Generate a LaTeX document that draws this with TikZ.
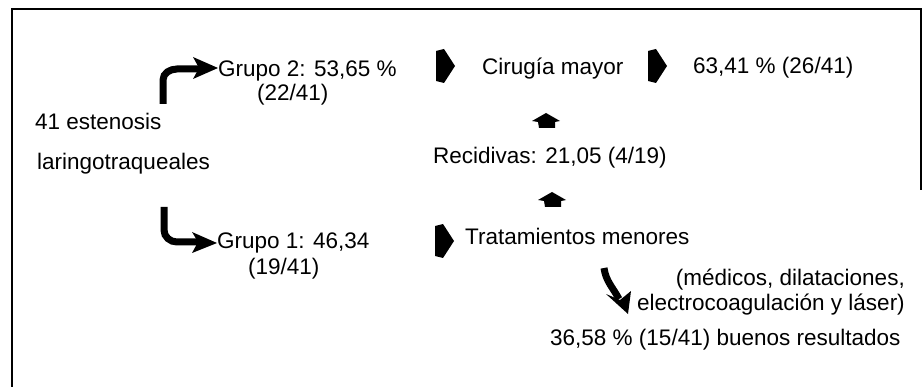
\documentclass[tikz,border=0pt]{standalone}
\usepackage{fontspec}
\setmainfont{Liberation Sans}
\tikzset{
  rblock/.pic={\fill (-9,-15)--(-1,-17)--(10,0)--(-1,17)--(-9,15)--cycle;},
  ublock/.pic={\fill (0,-8)--(14,0)--(9,1)--(9,7)--(-7,7)--(-8,1)--(-14,0)--cycle;},
}
\begin{document}
\begin{tikzpicture}[x=1pt,y=-1pt,
  lbl/.style={inner sep=0pt,anchor=base west,font=\fontsize{22.5}{27}\selectfont},
  lble/.style={lbl,anchor=base east},
  shaft/.style={line width=7pt},
  headfill/.style={fill=black},
  frame/.style={line width=1.5pt}]
\useasboundingbox (0,0) rectangle (923,387);
\draw[frame] (12,388) -- (12,9) -- (921,9) -- (921,190);

% texts
\node[lbl] (g2)  at (218,77)  {Grupo 2: 53,65 \%};
\node[lbl] (g2b) at (257,101) {(22/41)};
\node[lbl] (est) at (35,130)  {41 estenosis};
\node[lbl] (lar) at (37,170)  {laringotraqueales};
\node[lbl] (g1)  at (217,249) {Grupo 1: 46,34};
\node[lbl] (g1b) at (248,275) {(19/41)};
\node[lbl] (cir) at (482,75)  {Cirugía mayor};
\node[lbl] (res) at (693,74)  {63,41 \% (26/41)};
\node[lbl] (rec) at (433,164) {Recidivas: 21,05 (4/19)};
\node[lbl] (tra) at (465,245) {Tratamientos menores};
\node[lble] (med) at (905,285) {(médicos, dilataciones,};
\node[lble] (ele) at (905,310) {electrocoagulación y láser)};
\node[lbl] (bue) at (550,345) {36,58 \% (15/41) buenos resultados};

% bent arrow to Grupo 2
\coordinate (up0) at (163,104);
\coordinate (up1) at (199,69);
\draw[shaft] (up0) -- (163,80) to[out=90,in=180] (177,69) -- (up1);
\fill[headfill] (193,57) -- (g2.west |- 0,68) -- (193,79) -- (199,68) -- cycle;

% bent arrow to Grupo 1
\coordinate (dn0) at (164,207);
\coordinate (dn1) at (198,242);
\draw[shaft] (dn0) -- (164,230) to[out=-90,in=180] (177,242) -- (dn1);
\fill[headfill] (192,232) -- (g1.west |- 0,243) -- (192,253) -- (198,242) -- cycle;

% block arrows
\pic at (445,66) {rblock};
\pic at (657,66) {rblock};
\pic at (444,241) {rblock};
\pic at (546,121) {ublock};
\pic at (552,200) {ublock};

% curved arrow down
\coordinate (cv0) at (604,268);
\coordinate (cv1) at (619,299);
\draw[line width=7pt] (cv0) to[out=-82,in=118] (cv1);
\fill[headfill] (606,294) -- (628,314) -- (631,291) -- (620,300) -- cycle;
\end{tikzpicture}
\end{document}
